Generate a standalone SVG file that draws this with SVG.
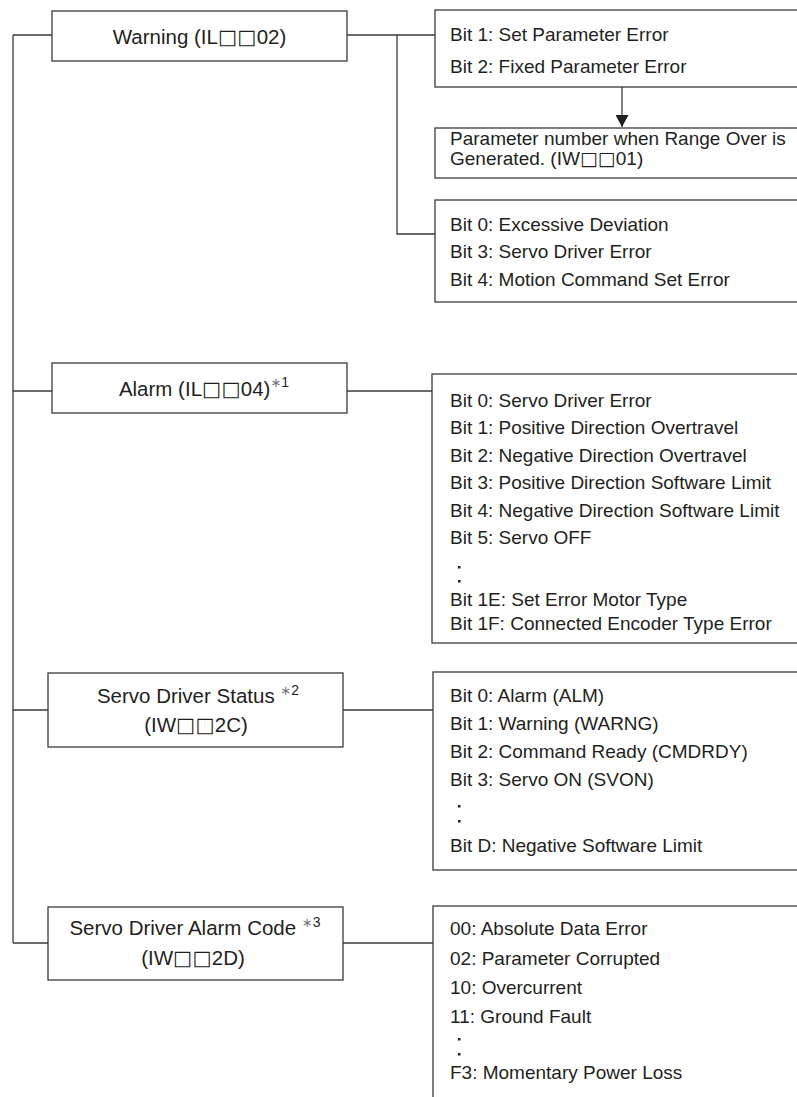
<svg xmlns="http://www.w3.org/2000/svg" width="797" height="1097" viewBox="0 0 797 1097">
<style>
  .box { fill: #ffffff; stroke: #3a3a3a; stroke-width: 1.3; }
  .ln { fill: none; stroke: #3a3a3a; stroke-width: 1.3; }
  .lbl { font-family: "Liberation Sans", Arial, sans-serif; font-size: 20.5px; fill: #231f20; text-anchor: middle; }
  .lst { font-family: "Liberation Sans", Arial, sans-serif; font-size: 19px; fill: #231f20; }
  .sq { font-family: "DejaVu Sans", sans-serif; font-weight: bold; }
  .sup { font-size: 14px; }
  .ast { font-family: "DejaVu Sans", sans-serif; font-size: 13px; fill: #777777; }
  .dot { fill: #231f20; }
</style>
<defs>
  <marker id="arr" viewBox="0 0 12 13" refX="12" refY="6.5" markerWidth="12" markerHeight="13" markerUnits="userSpaceOnUse" orient="auto">
    <path d="M0,0 L12,6.5 L0,13 Z" fill="#231f20"/>
  </marker>
</defs>

<g id="connectors">
  <path class="ln" d="M13,35 V943"/>
  <path class="ln" d="M13,35 H52"/>
  <path class="ln" d="M13,391 H52"/>
  <path class="ln" d="M13,710 H48"/>
  <path class="ln" d="M13,943 H48"/>
  <path class="ln" d="M347,35 H435"/>
  <path class="ln" d="M397,35 V234 H435"/>
  <path class="ln" d="M622,87 V127" marker-end="url(#arr)"/>
  <path class="ln" d="M347,391 H432"/>
  <path class="ln" d="M343,710 H433"/>
  <path class="ln" d="M343,943 H433"/>
</g>

<g id="warning">
  <rect class="box" x="52" y="11" width="295" height="50"/>
  <text class="lbl" x="199.5" y="44">Warning (IL<tspan class="sq">□□</tspan>02)</text>
</g>

<g id="warning-bits12">
  <rect class="box" x="435" y="10" width="380" height="77"/>
  <text class="lst" x="450" y="41">Bit 1: Set Parameter Error</text>
  <text class="lst" x="450" y="73">Bit 2: Fixed Parameter Error</text>
</g>

<g id="param-number">
  <rect class="box" x="435" y="128" width="380" height="50"/>
  <text class="lst" x="450" y="145">Parameter number when Range Over is</text>
  <text class="lst" x="450" y="165">Generated. (IW<tspan class="sq">□□</tspan>01)</text>
</g>

<g id="warning-bits034">
  <rect class="box" x="435" y="200" width="380" height="102"/>
  <text class="lst" x="450" y="231">Bit 0: Excessive Deviation</text>
  <text class="lst" x="450" y="258">Bit 3: Servo Driver Error</text>
  <text class="lst" x="450" y="286">Bit 4: Motion Command Set Error</text>
</g>

<g id="alarm">
  <rect class="box" x="52" y="363" width="295" height="50"/>
  <text class="lbl" x="204" y="396">Alarm (IL<tspan class="sq">□□</tspan>04)<tspan class="ast" dy="-9">∗</tspan><tspan class="sup">1</tspan></text>
</g>

<g id="alarm-bits">
  <rect class="box" x="432" y="374" width="380" height="269"/>
  <text class="lst" x="450" y="407">Bit 0: Servo Driver Error</text>
  <text class="lst" x="450" y="434">Bit 1: Positive Direction Overtravel</text>
  <text class="lst" x="450" y="462">Bit 2: Negative Direction Overtravel</text>
  <text class="lst" x="450" y="489">Bit 3: Positive Direction Software Limit</text>
  <text class="lst" x="450" y="517">Bit 4: Negative Direction Software Limit</text>
  <text class="lst" x="450" y="544">Bit 5: Servo OFF</text>
  <rect class="dot" x="458" y="566" width="2.5" height="2.5"/>
  <rect class="dot" x="458" y="580" width="2.5" height="2.5"/>
  <text class="lst" x="450" y="606">Bit 1E: Set Error Motor Type</text>
  <text class="lst" x="450" y="630">Bit 1F: Connected Encoder Type Error</text>
</g>

<g id="servo-status">
  <rect class="box" x="48" y="673" width="295" height="74"/>
  <text class="lbl" x="198" y="703">Servo Driver Status <tspan class="ast" dy="-8">∗</tspan><tspan class="sup">2</tspan></text>
  <text class="lbl" x="196" y="732">(IW<tspan class="sq">□□</tspan>2C)</text>
</g>

<g id="status-bits">
  <rect class="box" x="433" y="672" width="380" height="198"/>
  <text class="lst" x="450" y="702">Bit 0: Alarm (ALM)</text>
  <text class="lst" x="450" y="730">Bit 1: Warning (WARNG)</text>
  <text class="lst" x="450" y="758">Bit 2: Command Ready (CMDRDY)</text>
  <text class="lst" x="450" y="786">Bit 3: Servo ON (SVON)</text>
  <rect class="dot" x="458" y="805" width="2.5" height="2.5"/>
  <rect class="dot" x="458" y="820" width="2.5" height="2.5"/>
  <text class="lst" x="450" y="852">Bit D: Negative Software Limit</text>
</g>

<g id="alarm-code">
  <rect class="box" x="48" y="907" width="295" height="73"/>
  <text class="lbl" x="195" y="935">Servo Driver Alarm Code <tspan class="ast" dy="-8">∗</tspan><tspan class="sup">3</tspan></text>
  <text class="lbl" x="193" y="965">(IW<tspan class="sq">□□</tspan>2D)</text>
</g>

<g id="alarm-code-list">
  <rect class="box" x="433" y="906" width="380" height="210"/>
  <text class="lst" x="450" y="935">00: Absolute Data Error</text>
  <text class="lst" x="450" y="965">02: Parameter Corrupted</text>
  <text class="lst" x="450" y="994">10: Overcurrent</text>
  <text class="lst" x="450" y="1023">11: Ground Fault</text>
  <rect class="dot" x="458" y="1038" width="2.5" height="2.5"/>
  <rect class="dot" x="458" y="1053" width="2.5" height="2.5"/>
  <text class="lst" x="450" y="1079">F3: Momentary Power Loss</text>
</g>
</svg>
